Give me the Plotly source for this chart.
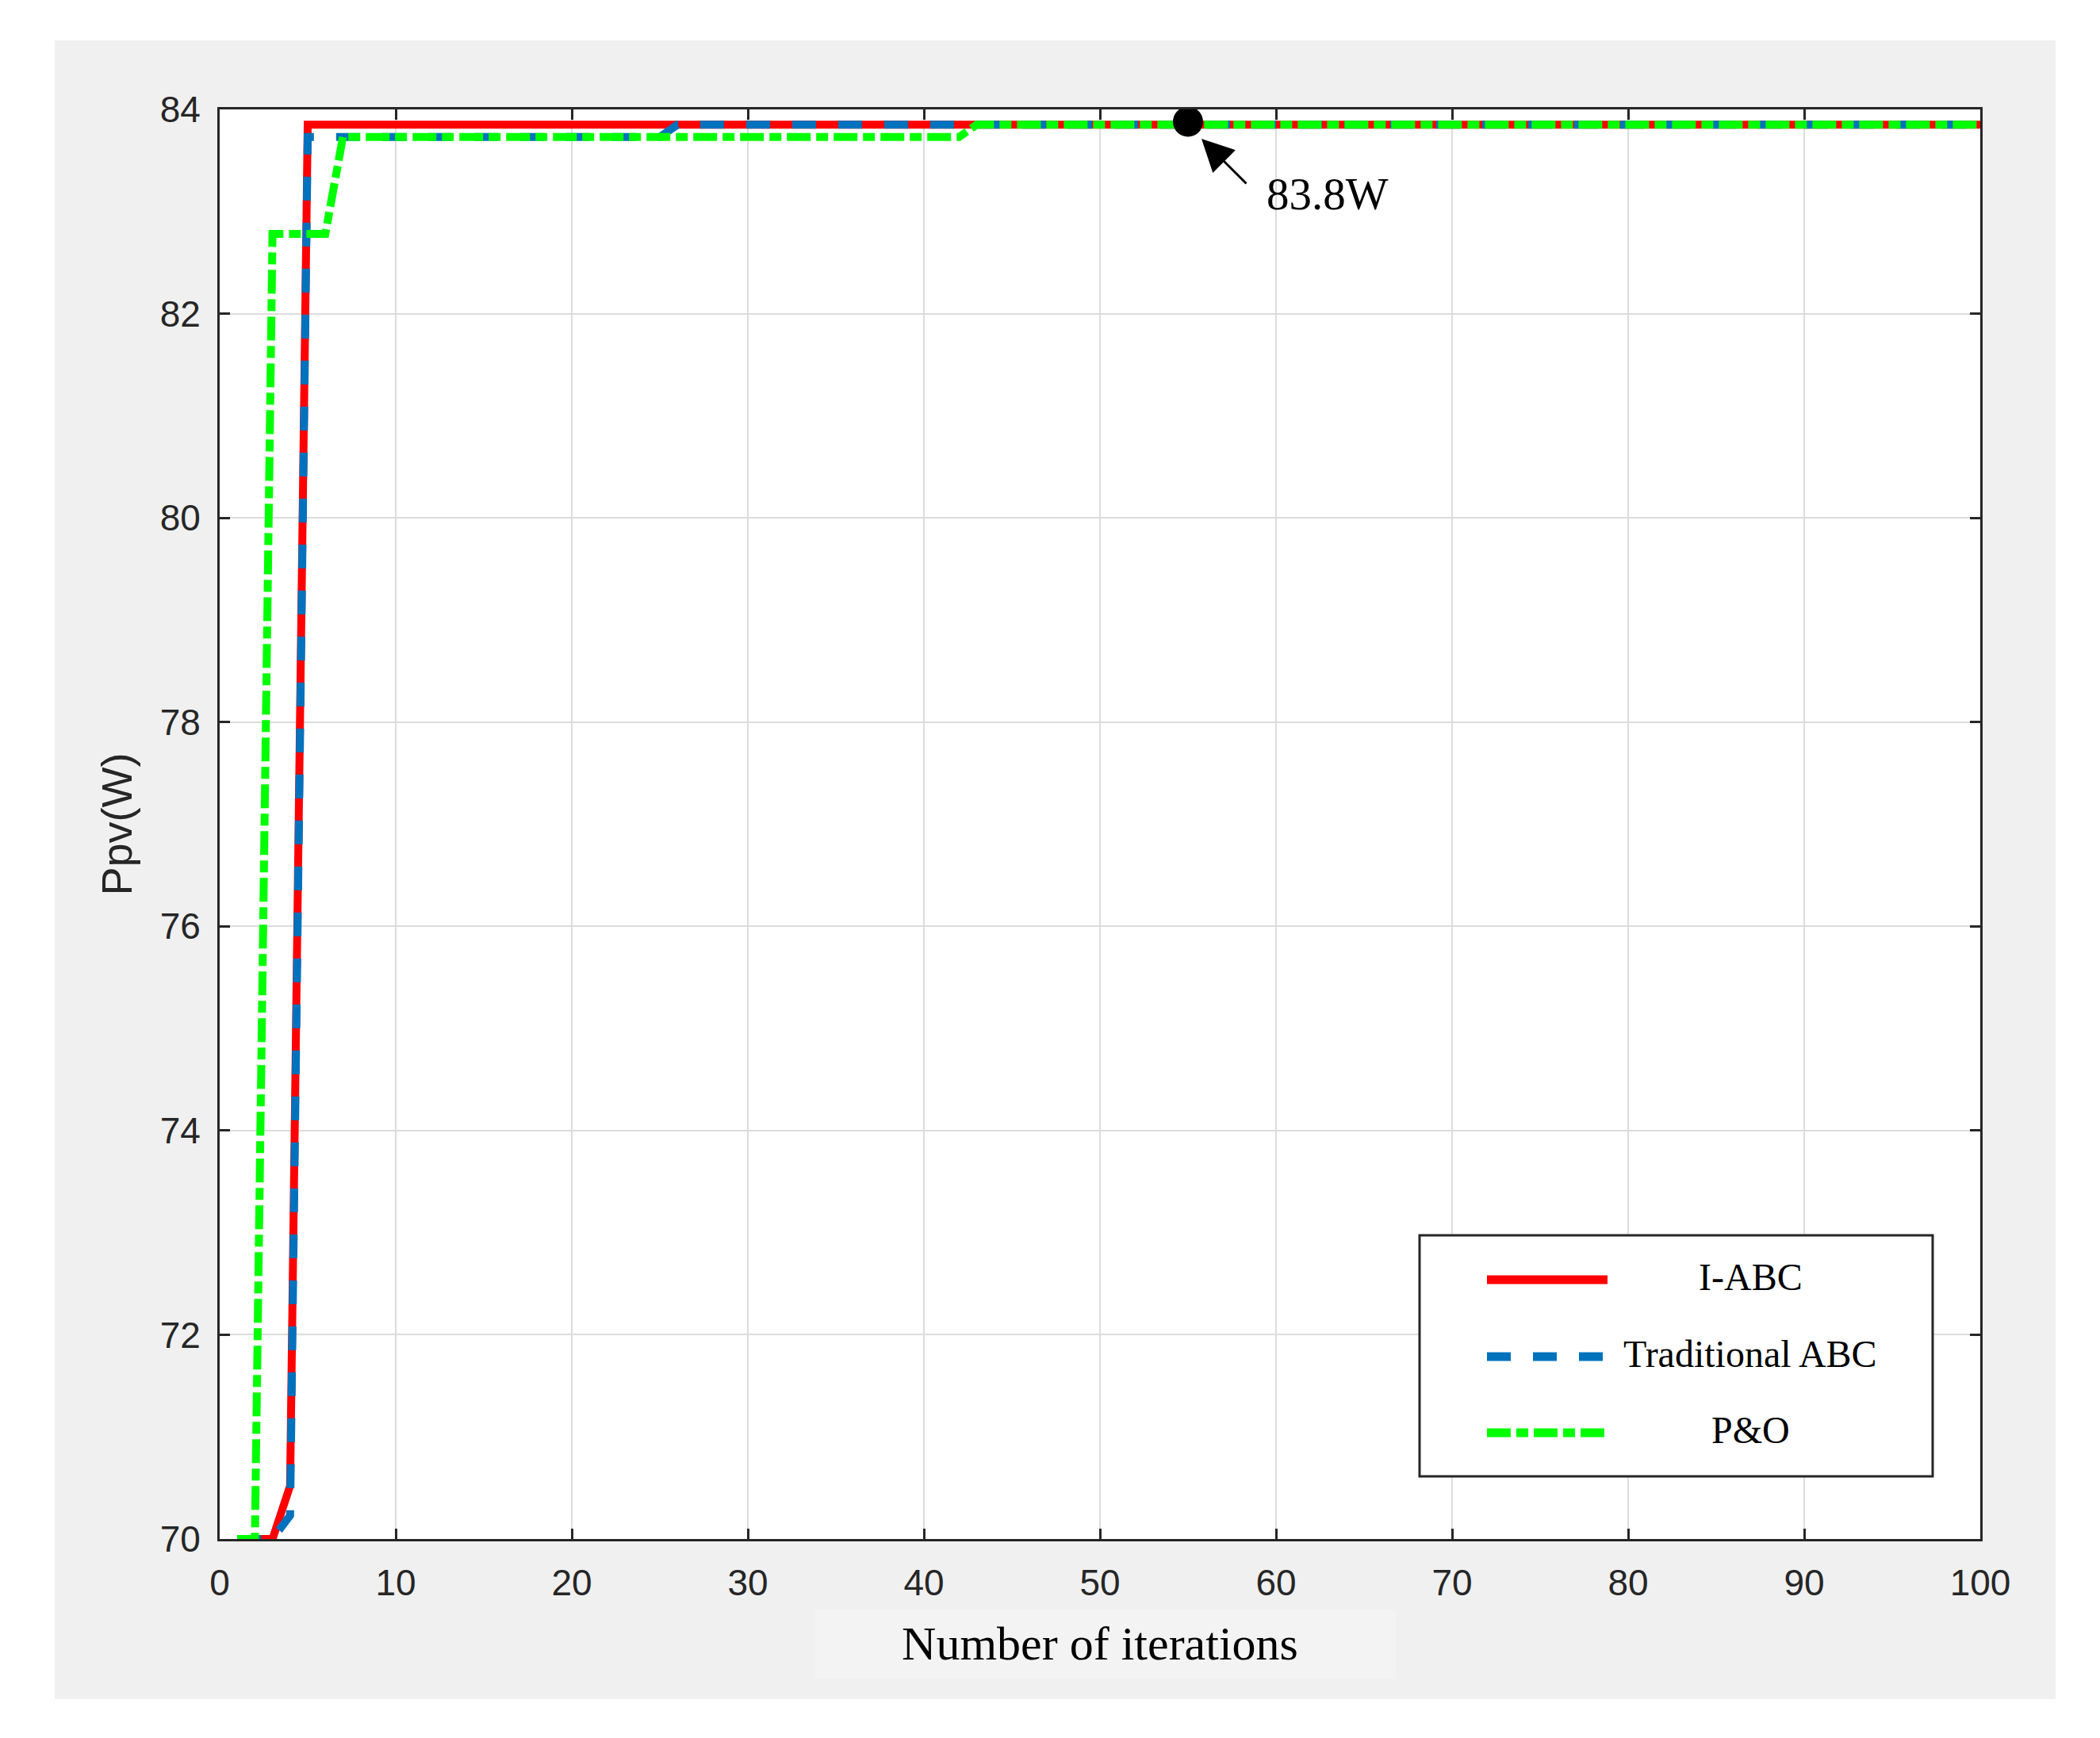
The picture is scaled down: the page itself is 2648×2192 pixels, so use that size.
import plotly.graph_objects as go

# ---------------- data ----------------
iabc_x = [1, 2, 3, 4, 5, 100]
iabc_y = [70, 70, 70, 70.52, 83.85, 83.85]

tabc_x = [1, 2, 3, 4, 5, 25, 26, 100]
tabc_y = [70, 70, 70, 70.23, 83.73, 83.73, 83.85, 83.85]

po_x = [1, 2, 3, 6, 7, 42, 43, 100]
po_y = [70, 70, 82.78, 82.78, 83.73, 83.73, 83.85, 83.85]

peak_x = [55]
peak_y = [83.88]
peak_label = "83.8W"

series_names = ["I-ABC", "Traditional ABC", "P&O"]
x_ticks = list(range(0, 101, 10))
y_ticks = list(range(70, 85, 2))

# ---------------- styling ----------------
RED = "#ff0000"
BLUE = "#0072bd"
GREEN = "#00ff00"
AXC = "#262626"
DASH_BLUE = "30px,28px"
DASH_GREEN = "30px,7px,15px,7px"

OFF = 8  # default page body margin
W, H = 2648 - OFF, 2192 - OFF
ML, MT = 277 - OFF, 138 - OFF
MR = W - (2497 - OFF)
MB = H - (1941 - OFF)
PW = W - ML - MR
PH = H - MT - MB


def px(xp):
    """page pixel x -> paper x"""
    return (xp - OFF - ML) / PW


def py(yp):
    """page pixel y -> paper y"""
    return (H - MB - (yp - OFF)) / PH


fig = go.Figure()
fig.add_trace(go.Scatter(x=iabc_x, y=iabc_y, mode="lines", name=series_names[0],
                         line=dict(color=RED, width=10), showlegend=False))
fig.add_trace(go.Scatter(x=tabc_x, y=tabc_y, mode="lines", name=series_names[1],
                         line=dict(color=BLUE, width=10, dash=DASH_BLUE), showlegend=False))
fig.add_trace(go.Scatter(x=po_x, y=po_y, mode="lines", name=series_names[2],
                         line=dict(color=GREEN, width=10, dash=DASH_GREEN), showlegend=False))
fig.add_trace(go.Scatter(x=peak_x, y=peak_y, mode="markers", name="peak",
                         marker=dict(color="black", size=38), showlegend=False))

shapes = []
# grey figure background with white border
shapes.append(dict(type="rect", xref="paper", yref="paper", layer="below",
                   x0=px(69), x1=px(2592), y0=py(2143), y1=py(51),
                   fillcolor="#f0f0f0", line=dict(width=0)))
# white axes area
shapes.append(dict(type="rect", xref="paper", yref="paper", layer="below",
                   x0=0, x1=1, y0=0, y1=1, fillcolor="white", line=dict(width=0)))
# faint box behind the x label
shapes.append(dict(type="rect", xref="paper", yref="paper", layer="below",
                   x0=px(1028), x1=px(1760), y0=py(2117), y1=py(2030),
                   fillcolor="#f3f3f3", line=dict(width=0)))

# manual legend
shapes.append(dict(type="rect", xref="paper", yref="paper", layer="above",
                   x0=px(1790), x1=px(2437), y0=py(1862), y1=py(1558),
                   fillcolor="white", line=dict(color=AXC, width=3)))
leg_rows = [1614, 1711, 1807]
leg_styles = [(RED, "solid"), (BLUE, DASH_BLUE), (GREEN, DASH_GREEN)]
annotations = []
for name, yrow, (col, dsh) in zip(series_names, leg_rows, leg_styles):
    shapes.append(dict(type="line", xref="paper", yref="paper", layer="above",
                       x0=px(1875), x1=px(2027), y0=py(yrow), y1=py(yrow),
                       line=dict(color=col, width=11, dash=dsh)))
    annotations.append(dict(xref="paper", yref="paper", x=px(2207), y=py(yrow - 4),
                            text=name, showarrow=False, xanchor="center", yanchor="middle",
                            font=dict(family="Liberation Serif", size=48, color="black")))

# arrow to the peak
annotations.append(dict(x=(1515 - OFF - ML) / PW * 100, y=84 - (175 - OFF - MT) / PH * 14,
                        xref="x", yref="y", text="", showarrow=True,
                        ax=58, ay=58, arrowhead=2, arrowwidth=3, arrowsize=2.7,
                        arrowcolor="black"))
annotations.append(dict(x=(1595 - OFF - ML) / PW * 100, y=84 - (244 - OFF - MT) / PH * 14,
                        xref="x", yref="y", text=peak_label, showarrow=False,
                        xanchor="left", yanchor="middle",
                        font=dict(family="Liberation Serif", size=57, color="black")))

fig.update_layout(
    width=W, height=H,
    margin=dict(l=ML, r=MR, t=MT, b=MB, pad=0),
    paper_bgcolor="white", plot_bgcolor="white",
    shapes=shapes, annotations=annotations,
    showlegend=False,
    font=dict(family="Liberation Sans", color=AXC),
)
fig.update_xaxes(range=[0, 100], tickvals=x_ticks, ticktext=[str(v) for v in x_ticks],
                 showgrid=True, gridcolor="#dcdcdc", gridwidth=2,
                 showline=True, linecolor=AXC, linewidth=3, mirror="ticks",
                 ticks="inside", ticklen=13, tickwidth=3, tickcolor=AXC,
                 tickfont=dict(family="Liberation Sans", size=46, color=AXC),
                 ticklabelstandoff=13, zeroline=False,
                 title=dict(text="Number of iterations", standoff=30,
                            font=dict(family="Liberation Serif", size=60, color="black")))
fig.update_yaxes(range=[70, 84], tickvals=y_ticks, ticktext=[str(v) for v in y_ticks],
                 showgrid=True, gridcolor="#dcdcdc", gridwidth=2,
                 showline=True, linecolor=AXC, linewidth=3, mirror="ticks",
                 ticks="inside", ticklen=13, tickwidth=3, tickcolor=AXC,
                 tickfont=dict(family="Liberation Sans", size=46, color=AXC),
                 ticklabelstandoff=12, zeroline=False,
                 title=dict(text="Ppv(W)", standoff=18,
                            font=dict(family="Liberation Sans", size=54, color=AXC)))

fig.write_html("out.html")
